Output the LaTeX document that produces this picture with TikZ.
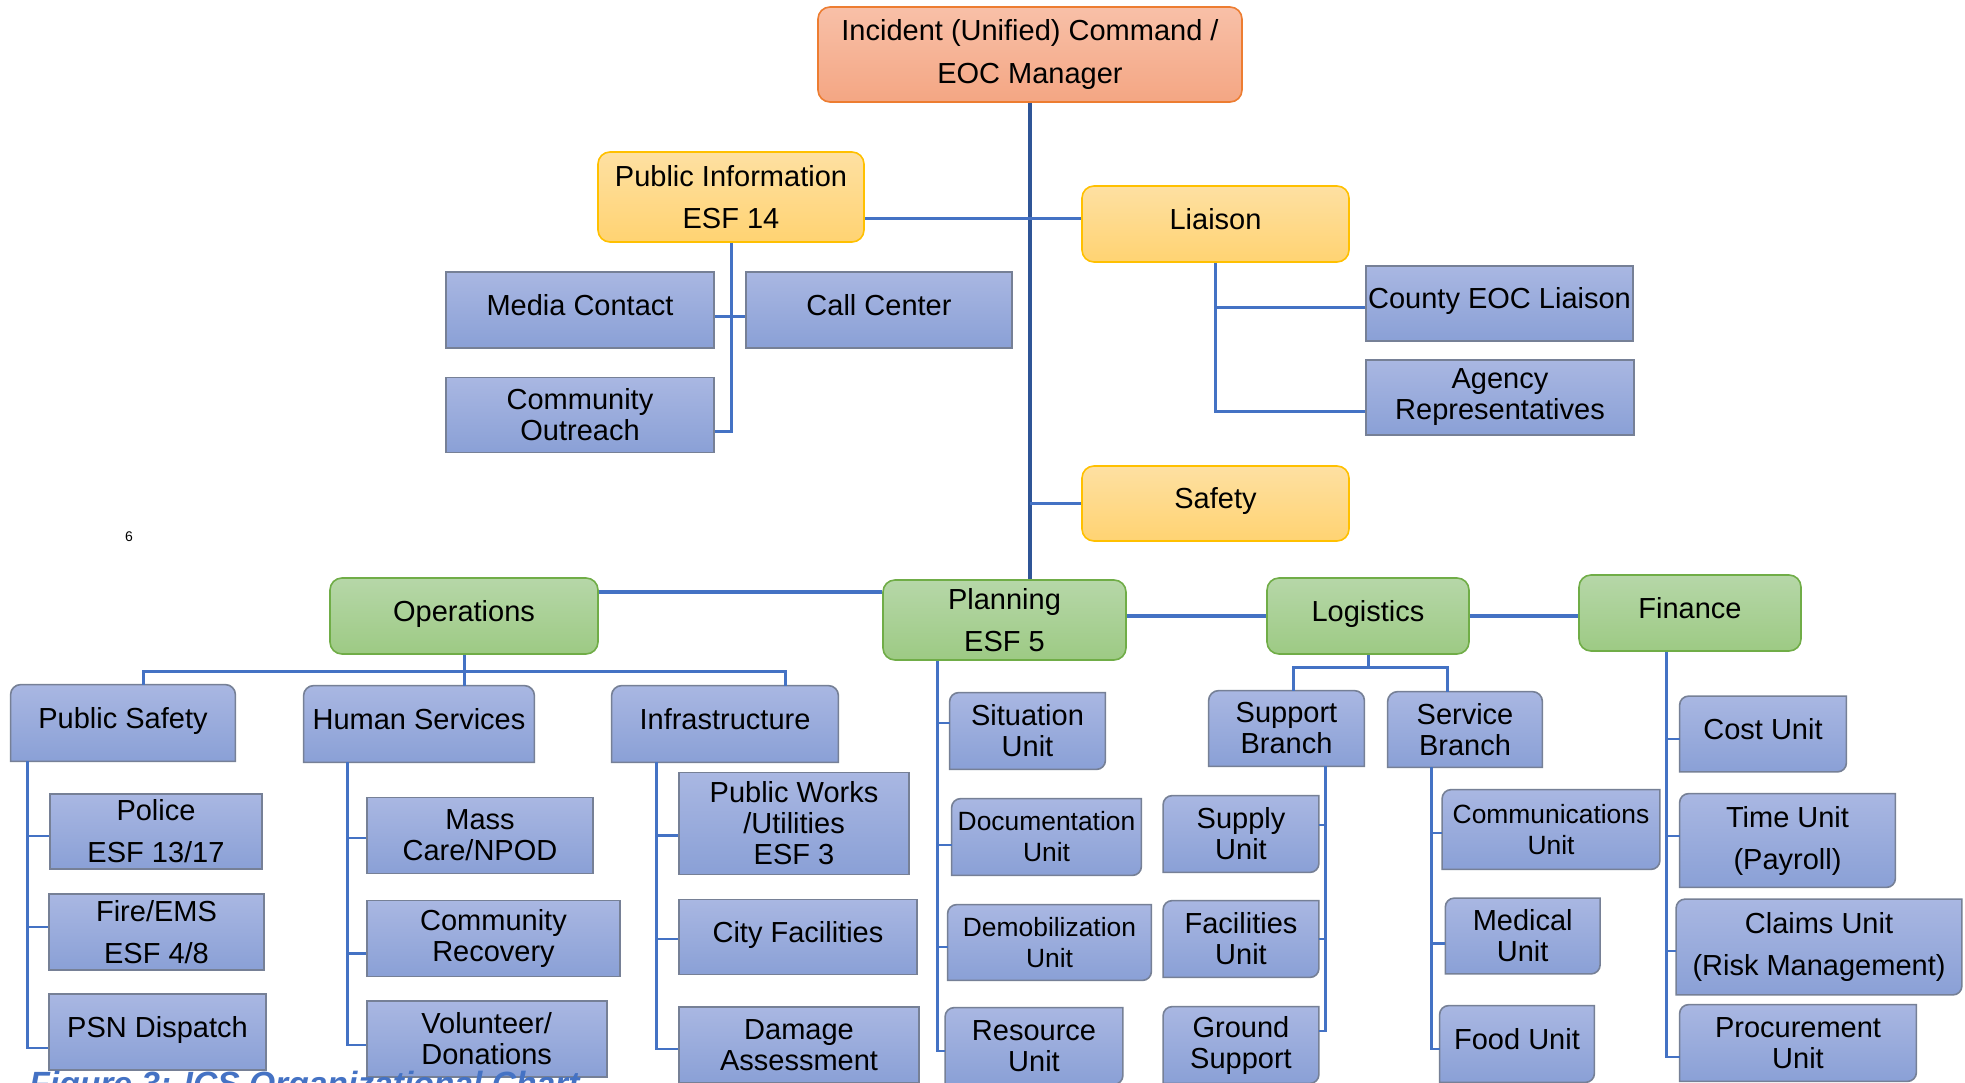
\documentclass[tikz,border=0pt]{standalone}
\usepackage{fontspec}
\setmainfont{Liberation Sans}
\usepackage{tikz}
\definecolor{cmdtop}{RGB}{248,192,168}
\definecolor{cmdbot}{RGB}{244,166,131}
\definecolor{cmdline}{RGB}{237,125,49}
\definecolor{stafftop}{RGB}{254,224,162}
\definecolor{staffbot}{RGB}{255,211,114}
\definecolor{staffline}{RGB}{255,192,0}
\definecolor{sectop}{RGB}{182,215,168}
\definecolor{secbot}{RGB}{157,202,132}
\definecolor{secline}{RGB}{112,173,71}
\definecolor{unittop}{RGB}{169,183,226}
\definecolor{unitbot}{RGB}{138,160,214}
\definecolor{unitline}{RGB}{118,128,150}
\definecolor{linkblue}{RGB}{68,114,196}
\definecolor{maindark}{RGB}{47,85,151}
\pgfdeclarelayer{background}
\pgfsetlayers{background,main}

\begin{document}
\begin{tikzpicture}[x=0.5pt,y=-0.5pt,
wh/.style 2 args={minimum width=#1*0.5pt,minimum height=#2*0.5pt}]
\tikzstyle{box}=[rectangle,inner sep=0pt,align=center,text=black,font=\fontsize{14.5}{15.5}\selectfont]
\tikzstyle{loose}=[font=\fontsize{14.5}{21}\selectfont]
\tikzstyle{small}=[font=\fontsize{13.2}{15.5}\selectfont]
\tikzstyle{oneline}=[text height=9pt,text depth=4pt]
\tikzstyle{cmdbox}=[box,rounded corners=6pt,draw=cmdline,line width=0.8pt,top color=cmdtop,bottom color=cmdbot]
\tikzstyle{staffbox}=[box,rounded corners=6pt,draw=staffline,line width=0.8pt,top color=stafftop,bottom color=staffbot]
\tikzstyle{secbox}=[box,rounded corners=6pt,draw=secline,line width=0.8pt,top color=sectop,bottom color=secbot]
\tikzstyle{subbox}=[box,draw=unitline,line width=0.8pt,top color=unittop,bottom color=unitbot]
\tikzstyle{unit}=[box]
\tikzstyle{unitshade}=[draw=unitline,line width=0.8pt,top color=unittop,bottom color=unitbot]
\tikzstyle{mainline}=[draw=maindark,line width=2.2pt]
\tikzstyle{secline}=[draw=linkblue,line width=1.8pt]
\tikzstyle{link}=[draw=linkblue,line width=1.5pt]
\tikzstyle{sublink}=[draw=linkblue,line width=1.3pt]

\useasboundingbox (0,0) rectangle (1965,1082);

% command and staff
\node[cmdbox,loose,wh={424}{95}]   (cmd)       at (1030,54.5)  {Incident (Unified) Command /\\EOC Manager};
\node[staffbox,loose,wh={266}{90}] (pio)       at (731,197)    {Public Information\\ESF 14};
\node[staffbox,oneline,wh={267}{76}] (liaison) at (1215.5,224) {Liaison};
\node[staffbox,oneline,wh={267}{75}] (safety)  at (1215.5,503.5) {Safety};
\node[subbox,oneline,wh={268}{76}] (media)     at (580,310)    {Media Contact};
\node[subbox,oneline,wh={266}{76}] (callc)     at (879,310)    {Call Center};
\node[subbox,wh={268}{75}]         (outreach)  at (580,415)    {Community\\Outreach};
\node[subbox,oneline,wh={267}{75}] (countyeoc) at (1499.5,303.5) {County EOC Liaison};
\node[subbox,wh={268}{75}]         (agency)    at (1500,397.5) {Agency\\Representatives};

% sections
\node[secbox,oneline,wh={268}{76}] (ops)  at (464,616)    {Operations};
\node[secbox,loose,wh={243}{80}]   (plan) at (1004.5,620) {Planning\\ESF 5};
\node[secbox,oneline,wh={202}{76}] (logi) at (1368,616)   {Logistics};
\node[secbox,oneline,wh={222}{76}] (fin)  at (1690,613)   {Finance};

% operations
\node[unit,oneline,wh={224}{76}] (psafety) at (123,723) {Public Safety};
\node[unit,oneline,wh={230}{76}] (humsvc)  at (419,724) {Human Services};
\node[unit,oneline,wh={226}{76}] (infra)   at (725,724) {Infrastructure};
\node[subbox,loose,wh={212}{75}]   (police)    at (156,831.5)   {Police\\ESF 13/17};
\node[subbox,loose,wh={215}{76}]   (fire)      at (156.5,932)   {Fire/EMS\\ESF 4/8};
\node[subbox,oneline,wh={217}{76}] (psn)       at (157.5,1032)  {PSN Dispatch};
\node[subbox,wh={226}{76}]         (masscare)  at (480,835.5)   {Mass\\Care/NPOD};
\node[subbox,wh={253}{76}]         (commrec)   at (493.5,938.5) {Community\\Recovery};
\node[subbox,wh={240}{76}]         (volunteer) at (486.7,1039)  {Volunteer/\\Donations};
\node[subbox,wh={230}{102}]        (pubworks)  at (794,823.6)   {Public Works\\/Utilities\\ESF 3};
\node[subbox,oneline,wh={238}{75}] (cityfac)   at (798,937)     {City Facilities};
\node[subbox,wh={240}{76}]         (damage)    at (799,1045)    {Damage\\Assessment};

% planning
\node[unit,wh={155}{76}]       (situ)     at (1027.5,731)  {Situation\\Unit};
\node[unit,small,wh={189}{76}] (docu)     at (1046.5,837)  {Documentation\\Unit};
\node[unit,small,wh={203}{75}] (demob)    at (1049.5,942.5) {Demobilization\\Unit};
\node[unit,wh={177}{76}]       (resource) at (1034,1046)   {Resource\\Unit};

% logistics
\node[unit,wh={155}{75}]         (suppb)   at (1286.5,728.5) {Support\\Branch};
\node[unit,wh={154}{75}]         (servb)   at (1465,729.5)   {Service\\Branch};
\node[unit,wh={155}{76}]         (supply)  at (1241,834)     {Supply\\Unit};
\node[unit,wh={155}{76}]         (facil)   at (1241,939)     {Facilities\\Unit};
\node[unit,wh={155}{76}]         (ground)  at (1241,1045)    {Ground\\Support};
\node[unit,small,wh={217}{79}]   (comms)   at (1551,829.5)   {Communications\\Unit};
\node[unit,wh={154}{75}]         (medical) at (1522.7,936)   {Medical\\Unit};
\node[unit,oneline,wh={154}{76}] (food)    at (1517,1044)    {Food Unit};

% finance
\node[unit,oneline,wh={166}{75}] (cost)    at (1763,734)     {Cost Unit};
\node[unit,loose,wh={215}{93}]   (time)    at (1787.5,840.5) {Time Unit\\(Payroll)};
\node[unit,loose,wh={285}{95}]   (claims)  at (1819,947)     {Claims Unit\\(Risk Management)};
\node[unit,wh={236}{76}]         (procure) at (1798,1043)    {Procurement\\Unit};

\node[font=\fontsize{7}{8}\selectfont,inner sep=0pt] (pageno) at (129,537) {6};
\node[anchor=base west,inner sep=0pt,text=linkblue,font=\fontsize{16.8}{20}\selectfont\bfseries\itshape] (caption) at (29,1095) {Figure 3: ICS Organizational Chart};

\begin{pgfonlayer}{background}
\fill[white] (0,0) rectangle (1965,1082);
\foreach \n in {psafety,humsvc,infra,suppb,servb}
  \path[unitshade] (\n.south west) -- ([yshift=-5pt]\n.north west) arc[start angle=180,end angle=90,radius=5pt]
    -- ([xshift=-5pt]\n.north east) arc[start angle=90,end angle=0,radius=5pt] -- (\n.south east) -- cycle;
\foreach \n in {situ,docu,demob,resource,supply,facil,ground,comms,medical,food,cost,time,claims,procure}
  \path[unitshade] (\n.south west) -- ([yshift=-4.5pt]\n.north west) arc[start angle=180,end angle=90,radius=4.5pt]
    -- (\n.north east) -- ([yshift=4.5pt]\n.south east) arc[start angle=0,end angle=-90,radius=4.5pt] -- cycle;
\end{pgfonlayer}

% staff connectors
\draw[mainline] (cmd.south) -- (cmd.south |- plan.north);
\draw[link] ([yshift=3pt]liaison.west) -- ([yshift=3pt]liaison.west -| pio.east);
\draw[link] (safety.west) -- (safety.west -| cmd.south);
\draw[link] (pio.south) |- ([yshift=-8pt]outreach.east);
\draw[link] ([yshift=-3pt]media.east) -- ([yshift=-3pt]callc.west);
\draw[link] (liaison.south) |- ([yshift=-7pt]agency.west);
\draw[link] ([yshift=-2pt]countyeoc.west) -- ([yshift=-2pt]countyeoc.west -| liaison.south);

% section connectors
\draw[secline] ([yshift=12pt]ops.east) -- ([yshift=12pt]ops.east -| plan.west);
\draw[secline] (logi.west) -- (logi.west -| plan.east);
\draw[secline] (logi.east) -- (logi.east -| fin.west);

% operations
\coordinate (opsbus) at ([yshift=-8.5pt]ops.south);
\draw[link] (ops.south) -- (ops.south |- humsvc.north);
\draw[link] ([xshift=10pt]psafety.north) |- (opsbus) -| ([xshift=30.3pt]infra.north);
\coordinate (psline) at ([xshift=8.5pt]psafety.south west);
\draw[sublink] (psline) |- ([yshift=-8pt]psn.west);
\draw[sublink] ([yshift=-2.2pt]police.west) -- ([yshift=-2.2pt]police.west -| psline);
\draw[sublink] ([yshift=2.5pt]fire.west) -- ([yshift=2.5pt]fire.west -| psline);
\coordinate (hsline) at ([xshift=21.8pt]humsvc.south west);
\draw[sublink] (hsline) |- ([yshift=-3pt]volunteer.west);
\draw[sublink] ([yshift=-1.2pt]masscare.west) -- ([yshift=-1.2pt]masscare.west -| hsline);
\draw[sublink] ([yshift=-7.6pt]commrec.west) -- ([yshift=-7.6pt]commrec.west -| hsline);
\coordinate (infline) at ([xshift=22.5pt]infra.south west);
\draw[sublink] (infline) |- ([yshift=-2pt]damage.west);
\draw[sublink] ([yshift=-6pt]pubworks.west) -- ([yshift=-6pt]pubworks.west -| infline);
\draw[sublink] ([yshift=-1pt]cityfac.west) -- ([yshift=-1pt]cityfac.west -| infline);

% planning
\coordinate (planline) at ([xshift=27.5pt]plan.south west);
\draw[sublink] (planline) |- ([yshift=-2.5pt]resource.west);
\draw[sublink] ([yshift=4pt]situ.west) -- ([yshift=4pt]situ.west -| planline);
\draw[sublink] ([yshift=-4pt]docu.west) -- ([yshift=-4pt]docu.west -| planline);
\draw[sublink] ([yshift=-2.2pt]demob.west) -- ([yshift=-2.2pt]demob.west -| planline);

% logistics
\coordinate (logbus) at ([yshift=-6.5pt]logi.south);
\draw[link] (logi.south) -- (logbus);
\draw[link] ([xshift=3.5pt]suppb.north) |- (logbus) -| ([xshift=-9pt]servb.north);
\coordinate (suppline) at ([xshift=-19.4pt]suppb.south east);
\draw[sublink] (suppline) |- ([yshift=7pt]ground.east);
\draw[sublink] ([yshift=4.5pt]supply.east) -- ([yshift=4.5pt]supply.east -| suppline);
\draw[sublink] (facil.east) -- (facil.east -| suppline);
\coordinate (servline) at ([xshift=22pt]servb.south west);
\draw[sublink] (servline) |- ([yshift=-2.5pt]food.west);
\draw[sublink] ([yshift=-1.7pt]comms.west) -- ([yshift=-1.7pt]comms.west -| servline);
\draw[sublink] ([yshift=-3.7pt]medical.west) -- ([yshift=-3.7pt]medical.west -| servline);

% finance
\coordinate (finline) at ([xshift=44pt]fin.south west);
\draw[sublink] (finline) |- ([yshift=-7pt]procure.west);
\draw[sublink] ([yshift=-2.5pt]cost.west) -- ([yshift=-2.5pt]cost.west -| finline);
\draw[sublink] ([yshift=2.2pt]time.west) -- ([yshift=2.2pt]time.west -| finline);
\draw[sublink] ([yshift=-2pt]claims.west) -- ([yshift=-2pt]claims.west -| finline);
\end{tikzpicture}
\end{document}
